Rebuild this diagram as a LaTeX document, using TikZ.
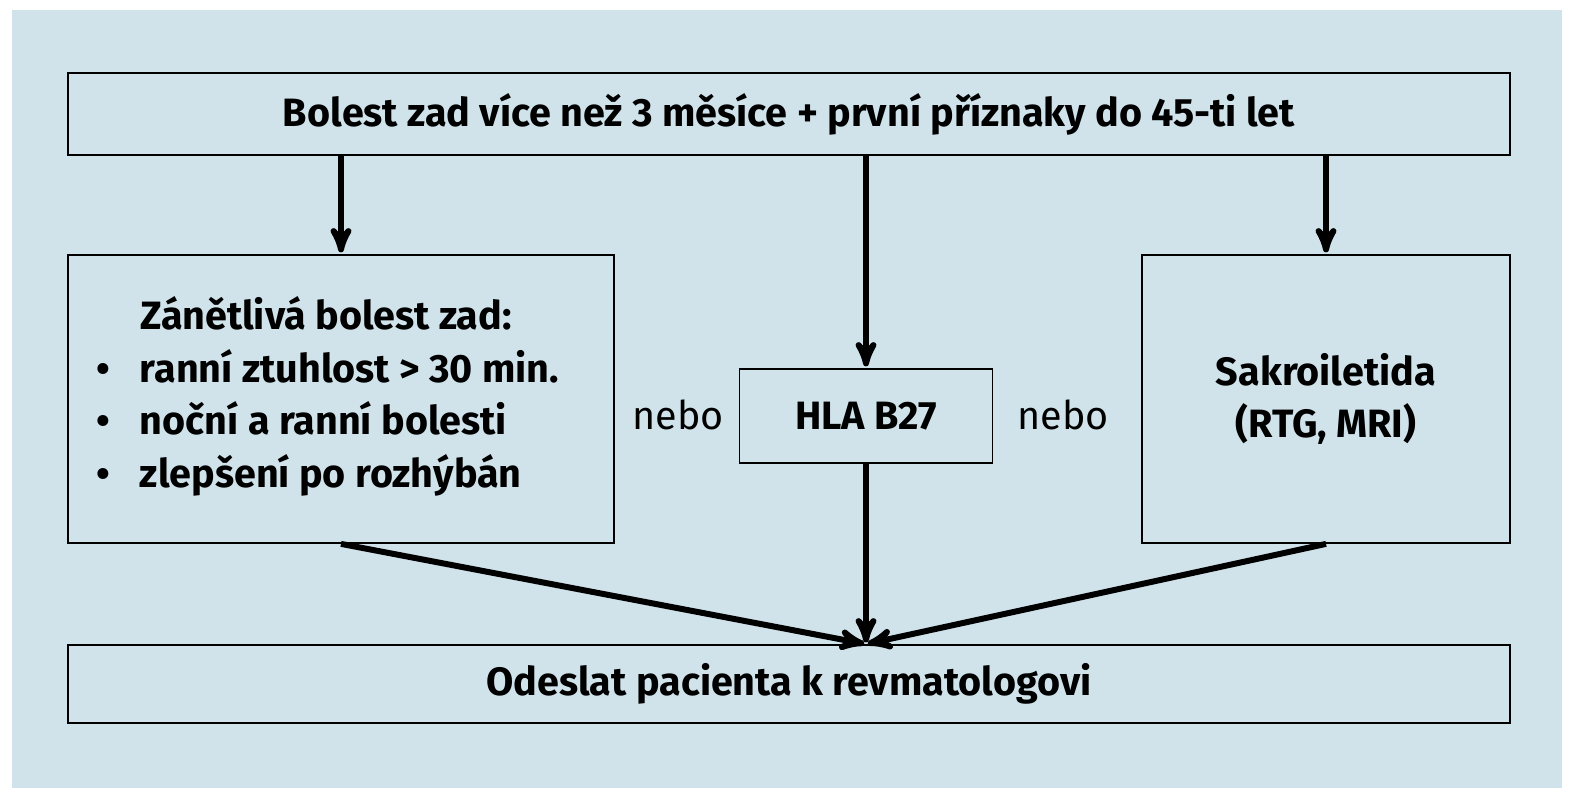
\documentclass[tikz,border=0pt]{standalone}
\usepackage{fontspec}
\setmainfont{Fira Sans}
\usetikzlibrary{arrows,positioning,calc}
\definecolor{panel}{RGB}{208,227,235}
\begin{document}
\begin{tikzpicture}[x=0.02cm,y=-0.02cm,>=stealth',
  box/.style={draw=black,line width=1pt,fill=panel,font=\fontsize{22.5}{30}\selectfont\bfseries,inner sep=0pt},
  arr/.style={->,line width=3.4pt,shorten >=1pt},
  nebo/.style={font=\fontsize{22.5}{30}\selectfont}]
\useasboundingbox (0,0) rectangle (1571,800);
\fill[panel] (12,10) rectangle (1562,788);
\node[box,minimum width=1442*0.02cm,minimum height=82*0.02cm] (top) at (789,114) {Bolest zad více než 3 měsíce + první příznaky do 45-ti let};
\node[box,minimum width=546*0.02cm,minimum height=288*0.02cm] (left) at (341,399) {};
\node[box,minimum width=253*0.02cm,minimum height=94*0.02cm] (hla) at (866,416) {HLA B27\hspace{0.5cm}};
\node[box,minimum width=368*0.02cm,minimum height=288*0.02cm,align=center] (right) at (1326,399) {Sakroiletida\\(RTG, MRI)};
\node[box,minimum width=1442*0.02cm,minimum height=78*0.02cm] (bottom) at (789,684) {Odeslat pacienta k revmatologovi};
\node[anchor=west,inner sep=0pt,font=\fontsize{22.5}{30}\selectfont\bfseries] (list) at (96,398)
  {\begin{tabular}{@{}l@{\hspace{0.6cm}}l@{}}
   & Zánětlivá bolest zad:\\
   \textbullet & ranní ztuhlost > 30 min.\\
   \textbullet & noční a ranní bolesti\\
   \textbullet & zlepšení po rozhýbán
   \end{tabular}};
\node[nebo] (n1) at (678,415) {nebo};
\node[nebo] (n2) at (1063,415) {nebo};
\draw[arr] (top.south -| left.north) -- (left.north);
\draw[arr] (top.south -| hla.north) -- (hla.north);
\draw[arr] (top.south -| right.north) -- (right.north);
\draw[arr] (hla.south) -- (bottom.north -| hla.south);
\draw[arr] (left.south) -- (bottom.north -| hla.south);
\draw[arr] (right.south) -- (bottom.north -| hla.south);
\end{tikzpicture}
\end{document}
